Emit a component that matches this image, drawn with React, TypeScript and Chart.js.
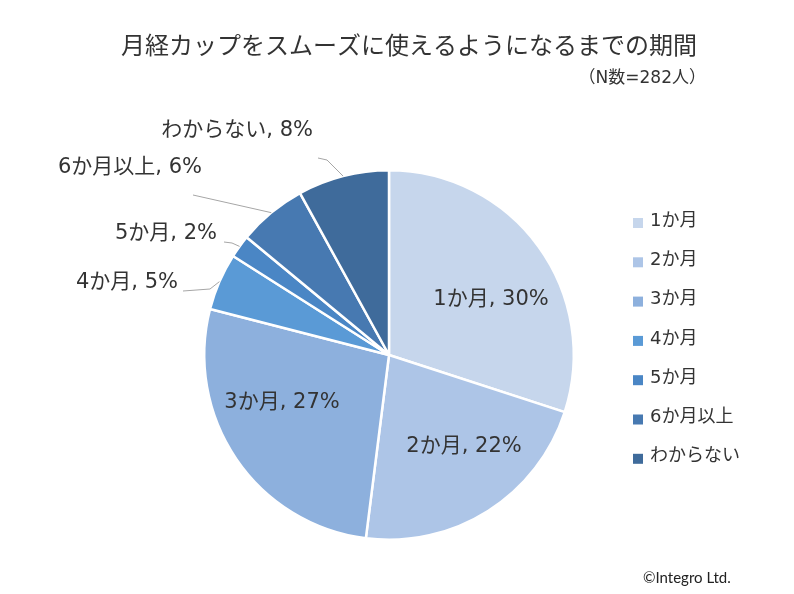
import React, { useEffect, useRef } from "react";
import { Chart, registerables } from "chart.js";

Chart.register(...registerables);

const categories = ["1か月", "2か月", "3か月", "4か月", "5か月", "6か月以上", "わからない"];
const shares = [30, 22, 27, 5, 2, 6, 8];
const sliceColors = ["#C6D6EC", "#ADC5E7", "#8DB0DD", "#5A9AD6", "#4A86C5", "#4779B1", "#3F6B9B"];
const titleText = "月経カップをスムーズに使えるようになるまでの期間";
const subtitleText = "（N数=282人）";
const creditText = "©Integro Ltd.";

const JP = '"Noto Sans CJK JP", "Noto Sans", sans-serif';
const MIX = '"DejaVu Sans", "Noto Sans CJK JP", sans-serif';
const TEXT = "#333333";

// label layout (relative to the pie centre, in px)
type Lay = { inside: boolean; tx: number; ty: number; path?: number[][] };
const labelLayout: Lay[] = [
  { inside: true, tx: 102, ty: -55 },
  { inside: true, tx: 75, ty: 92 },
  { inside: true, tx: -107, ty: 48 },
  { inside: false, tx: -211, ty: -72, path: [[-206, -64], [-179, -66]] },
  { inside: false, tx: -172, ty: -121, path: [[-165, -113], [-157, -112]] },
  { inside: false, tx: -187, ty: -187, path: [[-196, -160]] },
  { inside: false, tx: -76, ty: -224, path: [[-71, -197], [-62, -195]] },
];

const overlay = {
  id: "overlay",
  afterDatasetsDraw(chart: any) {
    const ctx = chart.ctx as CanvasRenderingContext2D;
    const meta = chart.getDatasetMeta(0);
    ctx.save();
    // title
    ctx.fillStyle = TEXT;
    ctx.textBaseline = "middle";
    ctx.textAlign = "center";
    ctx.font = `24px ${JP}`;
    ctx.fillText(titleText, 409, 45);
    ctx.textAlign = "right";
    ctx.font = `17px ${MIX}`;
    ctx.fillText(subtitleText, 706, 79);

    // data labels
    meta.data.forEach((arc: any, i: number) => {
      const p = arc.getProps(["x", "y", "startAngle", "endAngle", "outerRadius"], true);
      const lay = labelLayout[i];
      const label = `${categories[i]}, ${shares[i]}%`;
      ctx.font = `21px ${MIX}`;
      ctx.fillStyle = TEXT;
      if (lay.inside) {
        ctx.textAlign = "center";
        ctx.fillText(label, p.x + lay.tx, p.y + lay.ty);
      } else {
        ctx.textAlign = "right";
        ctx.fillText(label, p.x + lay.tx, p.y + lay.ty);
        const mid = (p.startAngle + p.endAngle) / 2;
        const ex = p.x + Math.cos(mid) * p.outerRadius;
        const ey = p.y + Math.sin(mid) * p.outerRadius;
        ctx.beginPath();
        ctx.strokeStyle = "#A6A6A6";
        ctx.lineWidth = 1;
        const pts = lay.path || [];
        pts.forEach((q, k) => {
          if (k === 0) ctx.moveTo(p.x + q[0], p.y + q[1]);
          else ctx.lineTo(p.x + q[0], p.y + q[1]);
        });
        ctx.lineTo(ex, ey);
        ctx.stroke();
      }
    });

    // legend
    ctx.textAlign = "left";
    ctx.font = `18px ${MIX}`;
    categories.forEach((c, i) => {
      const cy = 223 + i * 39.3;
      ctx.fillStyle = sliceColors[i];
      ctx.fillRect(633, cy - 5, 10, 10);
      ctx.fillStyle = TEXT;
      ctx.fillText(c, 650, cy - 2);
    });

    // credit
    ctx.font = `15px Lato, "Noto Sans", sans-serif`;
    ctx.fillStyle = "#222222";
    ctx.fillText(creditText, 643, 578);
    ctx.restore();
  },
};

export default function App() {
  const ref = useRef<HTMLCanvasElement | null>(null);
  useEffect(() => {
    if (!ref.current) return;
    const chart = new Chart(ref.current, {
      type: "pie",
      data: {
        labels: categories,
        datasets: [
          {
            data: shares,
            backgroundColor: sliceColors,
            borderColor: "#FFFFFF",
            borderWidth: 2.5,
            hoverOffset: 0,
            offset: 0,
          },
        ],
      },
      options: {
        responsive: false,
        animation: false,
        events: [],
        layout: { padding: { left: 203, right: 219, top: 169, bottom: 53 } },
        plugins: {
          legend: { display: false },
          title: { display: false },
          tooltip: { enabled: false },
        },
      },
      plugins: [overlay],
    });
    return () => chart.destroy();
  }, []);
  return (
    <div style={{ position: "fixed", left: 0, top: 0, width: 794, height: 594, background: "#fff" }}>
      <canvas ref={ref} width={794} height={594} />
    </div>
  );
}
